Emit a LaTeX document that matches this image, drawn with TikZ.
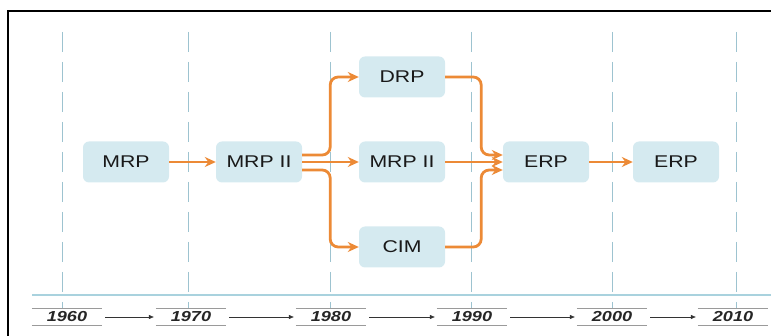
\documentclass[tikz,border=0pt]{standalone}
\usepackage{fontspec}
\setmainfont{Liberation Sans}
\usetikzlibrary{arrows.meta}

\definecolor{boxblue}{HTML}{D5EAF0}
\definecolor{gridblue}{HTML}{9DC3D0}
\definecolor{axisblue}{HTML}{A9D2DE}
\definecolor{flowor}{HTML}{EC8A36}
\definecolor{yrgray}{HTML}{9A9A9A}
\newcommand{\sx}[1]{\scalebox{1.25}[1]{#1}}

\tikzset{
    blk/.style={fill=boxblue, rounded corners=6pt, minimum width=86pt, minimum height=41pt,
        inner sep=0pt, text=black!90, font=\fontsize{17}{17}\selectfont},
    flow/.style={draw=flowor, line width=2.8pt, rounded corners=8pt,
        -{Stealth[length=11pt,width=10pt]}},
    yr/.style={minimum width=70pt, minimum height=16pt, inner sep=0pt, text=black!85,
        font=\fontsize{14.5}{14.5}\selectfont\bfseries\itshape},
    tl/.style={draw=black!80, line width=0.6pt, shorten >=2pt, -{Triangle[length=5pt,width=4pt]}}
}

\begin{document}
\begin{tikzpicture}[x=1pt, y=-1pt]
            \useasboundingbox (0,0) rectangle (771,336);
            % frame
            \draw[line width=2pt] (8,336) -- (8,11) -- (771,11);
            % grid
            \foreach \x in {62,188,330,471,612,736}
                \draw[gridblue, line width=1pt, dash pattern=on 20pt off 10pt] (\x,32) -- (\x,309);
            \draw[axisblue, line width=1.2pt] (32,295) -- (771,295);
            % years
            \foreach \yr/\x in {1960/67,1970/191,1980/331,1990/472,2000/612,2010/733} {
                \node[yr] (y\yr) at (\x,317) {\sx{\yr}};
                \draw[yrgray, line width=1.2pt] (y\yr.north west) -- (y\yr.north east)
                    (y\yr.south west) -- (y\yr.south east);
            }
            \foreach \a/\b in {1960/1970,1970/1980,1980/1990,1990/2000,2000/2010}
                \draw[tl] ([xshift=3pt]y\a.east) -- (y\b.west);
            % boxes
            \node[blk] (mrp) at (126,162) {\sx{MRP}};
            \node[blk] (mrpa) at (259,162) {\sx{MRP II}};
            \node[blk] (drp) at (402,77) {\sx{DRP}};
            \node[blk] (mrpb) at (402,162) {\sx{MRP II}};
            \node[blk] (cim) at (402,247) {\sx{CIM}};
            \node[blk] (erpa) at (546,162) {\sx{ERP}};
            \node[blk] (erpb) at (676,162) {\sx{ERP}};
            % flows
            \draw[flow] (mrp) -- (mrpa);
            \draw[flow] ([yshift=7pt]mrpa.east) -- ++(28,0) |- (drp.west);
            \draw[flow] (mrpa) -- (mrpb);
            \draw[flow] ([yshift=-8pt]mrpa.east) -- ++(28,0) |- (cim.west);
            \draw[flow] (drp.east) -- ++(36,0) |- ([yshift=7pt]erpa.west);
            \draw[flow] (mrpb) -- (erpa);
            \draw[flow] (cim.east) -- ++(36,0) |- ([yshift=-8pt]erpa.west);
            \draw[flow] (erpa) -- (erpb);
        \end{tikzpicture}
\end{document}
